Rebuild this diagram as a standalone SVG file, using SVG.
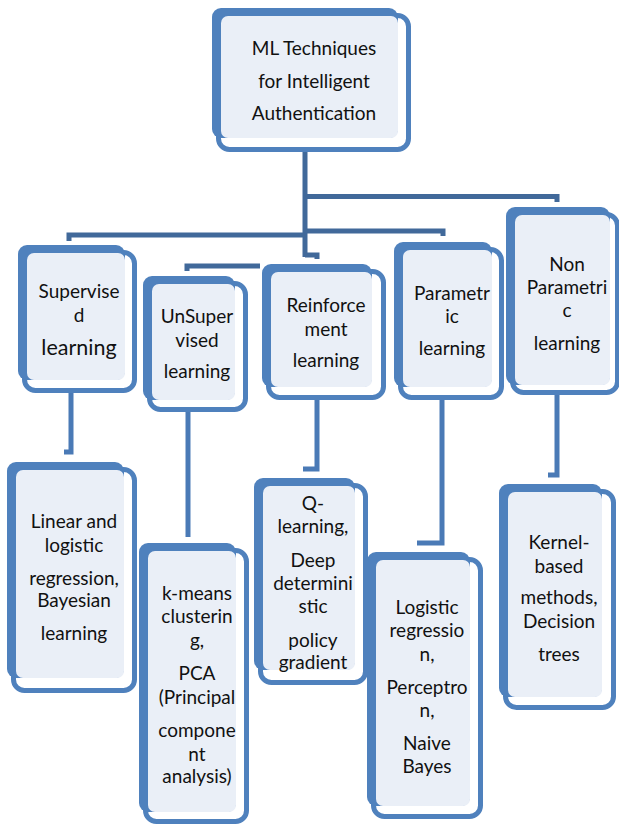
<svg xmlns="http://www.w3.org/2000/svg" width="619" height="825" viewBox="0 0 619 825">
<style>
.o{fill:#ffffff;stroke:#4f81bd;stroke-width:5}
.b{fill:#4f81bd}
.l{fill:#eaeff7}
.t{font-family:Lato,"Open Sans",sans-serif;font-size:19px;fill:#111;text-anchor:middle}
.c1{fill:none;stroke:#41699a;stroke-width:5}
.c2{fill:none;stroke:#4a7ab6;stroke-width:5}
</style>
<rect width="619" height="825" fill="#ffffff"/>
<g id="connectors">
<path class="c1" d="M305,150 V257 M305,255 H317 V259"/>
<path class="c1" d="M305,196.5 H557 V202"/>
<path class="c1" d="M305,231 H443 V236"/>
<path class="c1" d="M305,235 H69 V241"/>
<path class="c1" d="M260,266 H187 V271"/>
<path class="c2" d="M71,390 V452 H64"/>
<path class="c2" d="M188,409 V537"/>
<path class="c2" d="M317,397 V469 H303"/>
<path class="c2" d="M442,397 V543 H417"/>
<path class="c2" d="M557,392 V475 H548"/>
</g>
<g id="root">
<rect class="o" x="218.5" y="15.5" width="190" height="134" rx="11"/>
<rect class="b" x="212" y="8" width="186" height="130" rx="9"/>
<rect class="l" x="221" y="16" width="177" height="122" rx="7"/>
<text class="t" x="314" y="55">ML Techniques</text>
<text class="t" x="314" y="88">for Intelligent</text>
<text class="t" x="314" y="120">Authentication</text>
</g>
<g id="supervised">
<rect class="o" x="24.5" y="252.5" width="110" height="138" rx="11"/>
<rect class="b" x="18" y="245" width="107" height="135" rx="9"/>
<rect class="l" x="27" y="253" width="98" height="127" rx="7"/>
<text class="t" x="79" y="298">Supervise</text>
<text class="t" x="79" y="322">d</text>
<text class="t" x="79" y="355" style="font-size:21.5px">learning</text>
</g>
<g id="unsupervised">
<rect class="o" x="149.5" y="283.5" width="96" height="126" rx="11"/>
<rect class="b" x="143" y="276" width="92" height="124" rx="9"/>
<rect class="l" x="152" y="284" width="83" height="116" rx="7"/>
<text class="t" x="197" y="323">UnSuper</text>
<text class="t" x="197" y="347">vised</text>
<text class="t" x="197" y="378">learning</text>
</g>
<g id="reinforcement">
<rect class="o" x="268.5" y="271.5" width="115" height="126" rx="11"/>
<rect class="b" x="262" y="264" width="110" height="123" rx="9"/>
<rect class="l" x="271" y="272" width="101" height="115" rx="7"/>
<text class="t" x="326" y="312">Reinforce</text>
<text class="t" x="326" y="336">ment</text>
<text class="t" x="326" y="367">learning</text>
</g>
<g id="parametric">
<rect class="o" x="400.5" y="249.5" width="101" height="148" rx="11"/>
<rect class="b" x="394" y="242" width="98" height="145" rx="9"/>
<rect class="l" x="403" y="250" width="89" height="137" rx="7"/>
<text class="t" x="452" y="300">Parametr</text>
<text class="t" x="452" y="323">ic</text>
<text class="t" x="452" y="355">learning</text>
</g>
<g id="nonparametric">
<rect class="o" x="512.5" y="214.5" width="105" height="178" rx="11"/>
<rect class="b" x="506" y="207" width="104" height="178" rx="9"/>
<rect class="l" x="515" y="215" width="95" height="170" rx="7"/>
<text class="t" x="567" y="271">Non</text>
<text class="t" x="567" y="294">Parametri</text>
<text class="t" x="567" y="317">c</text>
<text class="t" x="567" y="350">learning</text>
</g>
<g id="linear">
<rect class="o" x="13.5" y="469.5" width="121" height="221" rx="11"/>
<rect class="b" x="7" y="462" width="117" height="216" rx="9"/>
<rect class="l" x="16" y="470" width="108" height="208" rx="7"/>
<text class="t" x="74" y="528">Linear and</text>
<text class="t" x="74" y="552">logistic</text>
<text class="t" x="74" y="585">regression,</text>
<text class="t" x="74" y="607">Bayesian</text>
<text class="t" x="74" y="640">learning</text>
</g>
<g id="kmeans">
<rect class="o" x="145.5" y="550.5" width="101" height="271" rx="11"/>
<rect class="b" x="139" y="543" width="97" height="269" rx="9"/>
<rect class="l" x="148" y="551" width="88" height="261" rx="7"/>
<text class="t" x="197" y="600">k-means</text>
<text class="t" x="197" y="623">clusterin</text>
<text class="t" x="197" y="647">g,</text>
<text class="t" x="197" y="680">PCA</text>
<text class="t" x="197" y="704">(Principal</text>
<text class="t" x="197" y="737">compone</text>
<text class="t" x="197" y="761">nt</text>
<text class="t" x="197" y="783">analysis)</text>
</g>
<g id="qlearning">
<rect class="o" x="260.5" y="485.5" width="105" height="197" rx="11"/>
<rect class="b" x="254" y="478" width="101" height="192" rx="9"/>
<rect class="l" x="263" y="486" width="92" height="184" rx="7"/>
<text class="t" x="313" y="510">Q-</text>
<text class="t" x="313" y="533">learning,</text>
<text class="t" x="313" y="567">Deep</text>
<text class="t" x="313" y="590">determini</text>
<text class="t" x="313" y="613">stic</text>
<text class="t" x="313" y="647">policy</text>
<text class="t" x="313" y="669">gradient</text>
</g>
<g id="logistic">
<rect class="o" x="373.5" y="559.5" width="107" height="257" rx="11"/>
<rect class="b" x="367" y="552" width="103" height="254" rx="9"/>
<rect class="l" x="376" y="560" width="94" height="246" rx="7"/>
<text class="t" x="427" y="614">Logistic</text>
<text class="t" x="427" y="637">regressio</text>
<text class="t" x="427" y="661">n,</text>
<text class="t" x="427" y="694">Perceptro</text>
<text class="t" x="427" y="717">n,</text>
<text class="t" x="427" y="750">Naive</text>
<text class="t" x="427" y="773">Bayes</text>
</g>
<g id="kernel">
<rect class="o" x="505.5" y="491.5" width="108" height="216" rx="11"/>
<rect class="b" x="499" y="484" width="103" height="213" rx="9"/>
<rect class="l" x="508" y="492" width="94" height="205" rx="7"/>
<text class="t" x="559" y="549">Kernel-</text>
<text class="t" x="559" y="573">based</text>
<text class="t" x="559" y="604">methods,</text>
<text class="t" x="559" y="628">Decision</text>
<text class="t" x="559" y="661">trees</text>
</g>
</svg>
